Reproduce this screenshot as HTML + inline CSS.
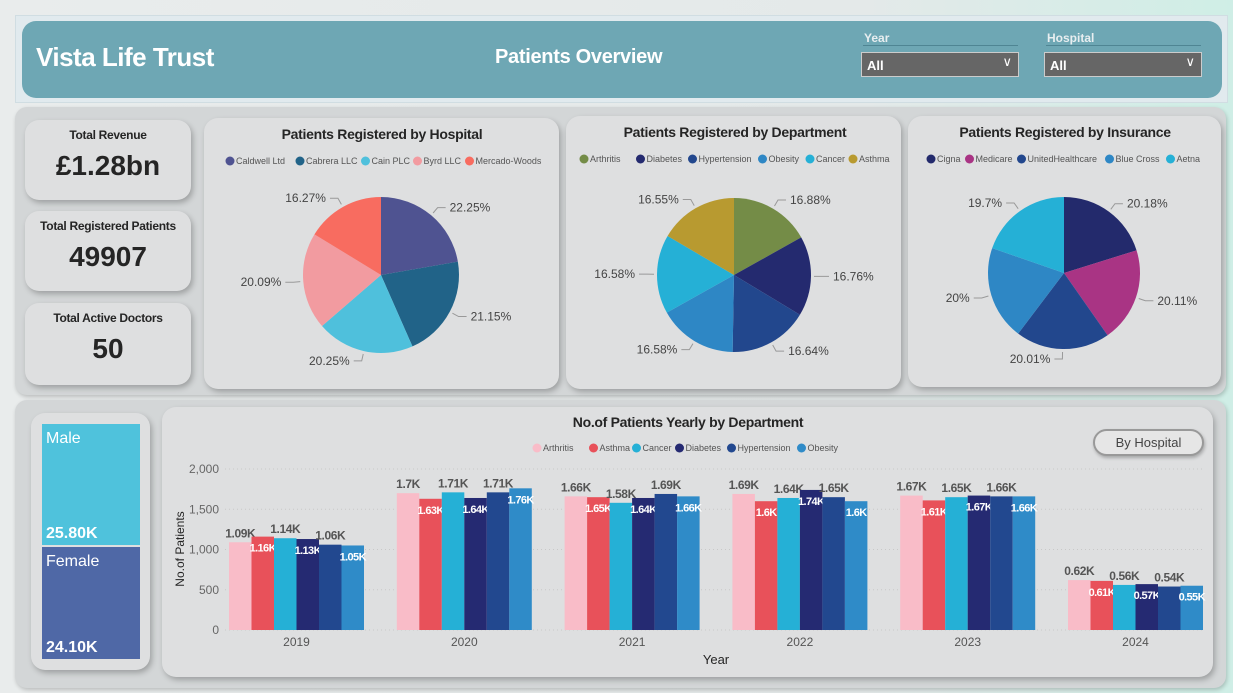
<!DOCTYPE html>
<html><head><meta charset="utf-8">
<style>
*{box-sizing:border-box;margin:0;padding:0}
body{width:1233px;height:693px;overflow:hidden;background:linear-gradient(90deg,#e9ecec 0%,#e4e9e9 70%,#cfeee6 100%);font-family:"Liberation Sans",sans-serif;position:relative}
.abs{position:absolute}
.panel{position:absolute;background:#dedfe0;border-radius:14px;box-shadow:2px 3px 6px rgba(0,0,0,.25)}
.kpi .t{font-size:12px;font-weight:bold;color:#252525;text-align:center;margin-top:8px;letter-spacing:-0.3px}
.kpi .v{font-size:28px;font-weight:bold;color:#252525;text-align:center;margin-top:8px}
.sel{position:absolute;background:#666;border:1px solid #ccc;color:#fff;font-weight:bold;font-size:13px;padding:5px 0 0 5px;height:25px}
.slab{position:absolute;color:#e8eef0;font-weight:bold;font-size:12px}
</style></head><body>
<div class="abs" style="left:15px;top:15px;width:1213px;height:88px;background:#e1eaee;border:1px solid #d0dde2"></div>
<div class="abs" style="left:22px;top:21px;width:1200px;height:77px;background:#6ea7b4;border-radius:14px"></div>
<div class="abs" style="left:36px;top:42px;color:#fff;font-weight:bold;font-size:26px;letter-spacing:-0.5px">Vista Life Trust</div>
<div class="abs" style="left:495px;top:46px;color:#fff;font-weight:bold;font-size:20px;letter-spacing:-0.3px">Patients Overview</div>
<div class="slab" style="left:864px;top:31px">Year</div>
<div class="abs" style="left:863px;top:45px;width:155px;height:1px;background:#4f8593"></div>
<div class="sel" style="left:861px;top:52px;width:158px">All<span style="position:absolute;right:6px;top:1px;font-weight:normal">&#8744;</span></div>
<div class="slab" style="left:1047px;top:31px">Hospital</div>
<div class="abs" style="left:1046px;top:45px;width:155px;height:1px;background:#4f8593"></div>
<div class="sel" style="left:1044px;top:52px;width:158px">All<span style="position:absolute;right:6px;top:1px;font-weight:normal">&#8744;</span></div>

<div class="abs" style="left:15px;top:107px;width:1211px;height:288px;background:#d3d6d7;border-radius:12px;box-shadow:1px 2px 4px rgba(0,0,0,.2)"></div>
<div class="panel kpi" style="left:25px;top:120px;width:166px;height:80px"><div class="t">Total Revenue</div><div class="v">£1.28bn</div></div>
<div class="panel kpi" style="left:25px;top:211px;width:166px;height:80px"><div class="t">Total Registered Patients</div><div class="v">49907</div></div>
<div class="panel kpi" style="left:25px;top:303px;width:166px;height:82px"><div class="t">Total Active Doctors</div><div class="v">50</div></div>
<div class="panel" style="left:204px;top:118px;width:355px;height:271px"></div>
<div class="panel" style="left:566px;top:116px;width:335px;height:273px"></div>
<div class="panel" style="left:908px;top:116px;width:313px;height:271px"></div>

<div class="abs" style="left:15px;top:400px;width:1211px;height:288px;background:#d3d6d7;border-radius:12px;box-shadow:1px 2px 4px rgba(0,0,0,.2)"></div>
<div class="panel" style="left:31px;top:413px;width:119px;height:257px"></div>
<div class="abs" style="left:42px;top:424px;width:98px;height:121px;background:#4fc2dc;color:#fff"><div style="position:absolute;left:4px;top:6px;font-size:16px">Male</div><div style="position:absolute;left:4px;bottom:2px;font-size:16px;font-weight:bold">25.80K</div></div>
<div class="abs" style="left:42px;top:547px;width:98px;height:112px;background:#4f68a6;color:#fff"><div style="position:absolute;left:4px;top:6px;font-size:16px">Female</div><div style="position:absolute;left:4px;bottom:2px;font-size:16px;font-weight:bold">24.10K</div></div>
<div class="panel" style="left:162px;top:407px;width:1051px;height:270px"></div>
<div class="abs" style="left:1093px;top:429px;width:111px;height:27px;border:2px solid #999;border-radius:14px;background:#e6e6e6;color:#444;font-size:13px;text-align:center;line-height:23px;box-shadow:1px 2px 3px rgba(0,0,0,.25)">By Hospital</div>

<svg id="svg" class="abs" style="left:0;top:0" width="1233" height="693"></svg>

<script>
const hospNames=["Caldwell Ltd","Cabrera LLC","Cain PLC","Byrd LLC","Mercado-Woods"];
const hospVals=[22.25,21.15,20.25,20.09,16.27];
const hospLabels=["22.25%","21.15%","20.25%","20.09%","16.27%"];
const deptNames=["Arthritis","Diabetes","Hypertension","Obesity","Cancer","Asthma"];
const deptVals=[16.88,16.76,16.64,16.58,16.58,16.55];
const deptLabels=["16.88%","16.76%","16.64%","16.58%","16.58%","16.55%"];
const insNames=["Cigna","Medicare","UnitedHealthcare","Blue Cross","Aetna"];
const insVals=[20.18,20.11,20.01,20,19.7];
const insLabels=["20.18%","20.11%","20.01%","20%","19.7%"];
const years=["2019","2020","2021","2022","2023","2024"];
const barSeries=["Arthritis","Asthma","Cancer","Diabetes","Hypertension","Obesity"];
const arthritis=[1090,1700,1660,1690,1670,620];
const asthma=[1160,1630,1650,1600,1610,610];
const cancer=[1140,1710,1580,1640,1650,560];
const diabetes=[1130,1640,1640,1740,1670,570];
const hypertension=[1060,1710,1690,1650,1660,540];
const obesity=[1050,1760,1660,1600,1660,550];
const yTicks=[0,500,1000,1500,2000];

const svg=document.getElementById('svg');
const NS='http://www.w3.org/2000/svg';
function mk(tag,attrs,parent){const e=document.createElementNS(NS,tag);for(const k in attrs)e.setAttribute(k,attrs[k]);(parent||svg).appendChild(e);return e;}
function txt(x,y,s,attrs){const e=mk('text',Object.assign({x:x,y:y,'font-family':'Liberation Sans, sans-serif'},attrs));e.textContent=s;return e;}

function legend(cx,y,names,colors,fs){
  const widths=names.map(n=>n.length*fs*0.5+16);
  const total=widths.reduce((a,b)=>a+b,0);
  let x=cx-total/2;
  names.forEach((n,i)=>{
    const c=mk('circle',{cx:x+5,cy:y-3,r:4.5,fill:colors[i]});
    
    
    const t=txt(x+11,y,n,{'font-size':fs,fill:'#555'});
    
    
    x+=widths[i];
  });
}

function pie(title,tx,ty,cx,cy,r,names,vals,labels,colors){
  const t=txt(tx,ty,title,{'font-size':14,'font-weight':'bold',fill:'#252525','text-anchor':'middle','letter-spacing':'-0.3'});
  
  
  legend(tx,ty+25,names,colors,9);
  const tot=vals.reduce((a,b)=>a+b,0);
  let a0=-Math.PI/2;
  vals.forEach((v,i)=>{
    const a1=a0+v/tot*Math.PI*2;
    const x0=cx+r*Math.cos(a0),y0=cy+r*Math.sin(a0),x1=cx+r*Math.cos(a1),y1=cy+r*Math.sin(a1);
    const p=mk('path',{d:`M${cx},${cy}L${x0},${y0}A${r},${r} 0 ${a1-a0>Math.PI?1:0} 1 ${x1},${y1}Z`,fill:colors[i]});
    
    
    const am=(a0+a1)/2,ca=Math.cos(am),sa=Math.sin(am);
    const px=cx+(r+3)*ca,py=cy+(r+3)*sa,qx=cx+(r+10)*ca,qy=cy+(r+10)*sa;
    const right=ca>=0;const ex=qx+(right?8:-8);
    const l=mk('polyline',{points:`${px},${py} ${qx},${qy} ${ex},${qy}`,fill:'none',stroke:'#999','stroke-width':1});
    
    
    const lt=txt(ex+(right?4:-4),qy+4,labels[i],{'font-size':12,fill:'#444','text-anchor':right?'start':'end'});
    
    
    a0=a1;
  });
}
pie('Patients Registered by Hospital',382,139,381,275,78,hospNames,hospVals,hospLabels,['#4f5391','#216388','#4fc0dc','#f29ba0','#f86c60']);
pie('Patients Registered by Department',735,137,734,275,77,deptNames,deptVals,deptLabels,['#748c47','#242a6f','#22478d','#2e87c5','#25b0d6','#b89a30']);
pie('Patients Registered by Insurance',1065,137,1064,273,76,insNames,insVals,insLabels,['#232a6c','#a93484','#22478d','#2e87c5','#25b0d6']);

const barColors=['#f9bcc8','#e8515a','#25b0d6','#252a72','#22488f','#2f8bc8'];
const series=[arthritis,asthma,cancer,diabetes,hypertension,obesity];
const yBase=630,yTop=469,yMax=2000;
const groupStep=167.8,firstCenter=296.5,barW=22.5;
function yS(v){return yBase-(v/yMax)*(yBase-yTop);}
function xC(i){return firstCenter+i*groupStep;}
const ct=txt(688,427,'No.of Patients Yearly by Department',{'font-size':14,'font-weight':'bold',fill:'#252525','text-anchor':'middle','letter-spacing':'-0.3'});


legend(688,451,barSeries,barColors,9);
yTicks.forEach(v=>{
  const g=mk('line',{x1:225,x2:1205,y1:yS(v),y2:yS(v),stroke:'#c8c8c8','stroke-dasharray':'1,3'});
  
  
  const t=txt(219,yS(v)+4,v.toLocaleString('en-US'),{'font-size':12,fill:'#666','text-anchor':'end'});
  
  
});
const yt=txt(0,0,'No.of Patients',{'font-size':12,fill:'#252525','text-anchor':'middle',transform:'translate(184,549) rotate(-90)'});


const xt=txt(716,664,'Year',{'font-size':13,fill:'#252525','text-anchor':'middle'});


years.forEach((yr,i)=>{
  const t=txt(xC(i),646,yr,{'font-size':12,fill:'#555','text-anchor':'middle'});
  
  
  series.forEach((s,j)=>{
    const bx=xC(i)-3*barW+j*barW,by=yS(s[i]);
    const r=mk('rect',{x:bx,y:by,width:barW,height:yBase-by,fill:barColors[j]});
    
    
    const lab=(Math.round(s[i]/10)/100)+'K';
    let l;
    if(j%2===0){l=txt(bx+barW/2,by-5,lab,{'font-size':12,'font-weight':'bold',fill:'#555','text-anchor':'middle','letter-spacing':'-0.4'});}
    else{l=txt(bx+barW/2,by+15,lab,{'font-size':11,'font-weight':'bold',fill:'#fff','text-anchor':'middle','letter-spacing':'-0.6'});}
    
    
  });
});
</script>
</body></html>
